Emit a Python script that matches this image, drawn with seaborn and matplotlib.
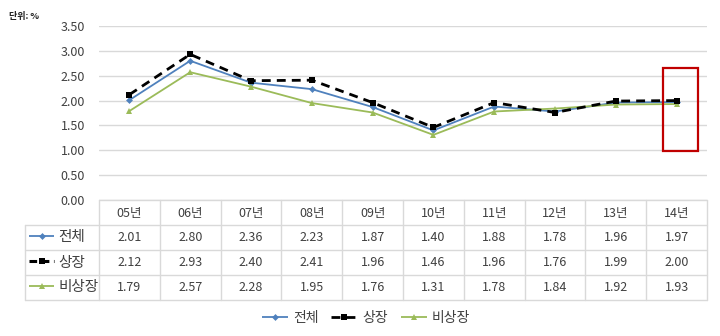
import matplotlib
matplotlib.use("Agg")
import matplotlib.pyplot as plt
import seaborn as sns
import pandas as pd
from matplotlib.lines import Line2D
from matplotlib.patches import Rectangle

years = ["05년", "06년", "07년", "08년", "09년", "10년", "11년", "12년", "13년", "14년"]
total = [2.01, 2.80, 2.36, 2.23, 1.87, 1.40, 1.88, 1.78, 1.96, 1.97]
listed = [2.12, 2.93, 2.40, 2.41, 1.96, 1.46, 1.96, 1.76, 1.99, 2.00]
unlisted = [1.79, 2.57, 2.28, 1.95, 1.76, 1.31, 1.78, 1.84, 1.92, 1.93]
series_names = ["전체", "상장", "비상장"]
yticks = [0.0, 0.5, 1.0, 1.5, 2.0, 2.5, 3.0, 3.5]

sns.set_theme(style="white")
plt.rcParams["font.family"] = ["Noto Sans CJK KR", "DejaVu Sans"]

W, H = 720, 336
fig = plt.figure(figsize=(7.2, 3.36), dpi=100)
x0, x1 = 99, 707
ytop, ybot = 26, 200
ax = fig.add_axes([x0 / W, 1 - ybot / H, (x1 - x0) / W, (ybot - ytop) / H])

colors = ["#4F81BD", "#000000", "#9BBB59"]
markers = ["D", "s", "^"]
msizes = [3.5, 5, 5]
lws = [1.3, 2.0, 1.3]
lstyles = [(0, ()), (0, (3.2, 2.2)), (0, ())]
data = [total, listed, unlisted]

df = pd.DataFrame({"x": list(range(len(years))) * 3,
                   "v": total + listed + unlisted,
                   "s": sum([[n] * len(years) for n in series_names], [])})

for i, name in enumerate(series_names):
    sub = df[df["s"] == name]
    sns.lineplot(data=sub, x="x", y="v", ax=ax, color=colors[i], marker=markers[i],
                 markersize=msizes[i], linewidth=lws[i], markeredgewidth=0,
                 linestyle=lstyles[i], legend=False, zorder=3 + (i == 1))

ax.set_xlim(-0.5, len(years) - 0.5)
ax.set_ylim(0, 3.5)
ax.set_yticks(yticks)
ax.set_yticklabels([f"{t:.2f}" for t in yticks], fontsize=9, color="#404040")
ax.set_xticks([])
ax.set_xlabel("")
ax.set_ylabel("")
ax.tick_params(axis="y", length=0, pad=10)
ax.grid(axis="y", color="#D9D9D9", linewidth=1)
for sp in ax.spines.values():
    sp.set_visible(False)

# red highlight box
ax.add_patch(Rectangle((8.78, 0.99), 0.58, 1.66, fill=False, edgecolor="#C00000",
                       linewidth=1.6, zorder=6))

# data table drawn in figure pixel coordinates
def fx(px):
    return px / W

def fy(py):
    return 1 - py / H

grid_c = "#D9D9D9"
row_y = [200, 225, 250, 275, 300]
tl = 25
colw = (x1 - x0) / len(years)
fig.add_artist(Line2D([fx(x0), fx(x1)], [fy(200), fy(200)], color=grid_c, lw=1))
for yy in row_y[1:]:
    fig.add_artist(Line2D([fx(tl), fx(x1)], [fy(yy), fy(yy)], color=grid_c, lw=1))
fig.add_artist(Line2D([fx(tl), fx(tl)], [fy(225), fy(300)], color=grid_c, lw=1))
for j in range(len(years) + 1):
    xx = x0 + j * colw
    fig.add_artist(Line2D([fx(xx), fx(xx)], [fy(200), fy(300)], color=grid_c, lw=1))

txt_c = "#404040"
for j, yl in enumerate(years):
    cx = x0 + (j + 0.5) * colw
    fig.text(fx(cx), fy(213), yl, ha="center", va="center", fontsize=9, color=txt_c)
    for r, vals in enumerate(data):
        cy = (row_y[r + 1] + row_y[r + 2]) / 2
        fig.text(fx(cx), fy(cy), f"{vals[j]:.2f}", ha="center", va="center",
                 fontsize=9, color=txt_c)

# row headers with legend keys
for r, name in enumerate(series_names):
    cy = (row_y[r + 1] + row_y[r + 2]) / 2
    fig.add_artist(Line2D([fx(29), fx(54)], [fy(cy - 2), fy(cy - 2)], color=colors[r],
                          lw=lws[r] if r != 1 else 2.2,
                          linestyle=lstyles[r] if r != 1 else (0, (2.5, 1.5))))
    fig.add_artist(Line2D([fx(41.5)], [fy(cy - 2)], color=colors[r], marker=markers[r],
                          markersize=msizes[r], markeredgewidth=0, linestyle="none"))
    fig.text(fx(58), fy(cy), name, ha="left", va="center", fontsize=10.5, color=txt_c)

# unit label
fig.text(fx(9), fy(16), "단위: %", ha="left", va="center", fontsize=6.5,
         color="#202020", fontweight="bold")

# bottom legend
handles = [Line2D([0], [0], color=colors[i], lw=lws[i], linestyle=lstyles[i],
                  marker=markers[i], markersize=msizes[i], markeredgewidth=0)
           for i in range(3)]
leg = fig.legend(handles, series_names, loc="center", bbox_to_anchor=(fx(366), fy(318)),
                 ncol=3, frameon=False, fontsize=10, handlelength=1.9,
                 columnspacing=0.9, handletextpad=0.35)
for t in leg.get_texts():
    t.set_color(txt_c)

fig.savefig("out.png", dpi=100)
